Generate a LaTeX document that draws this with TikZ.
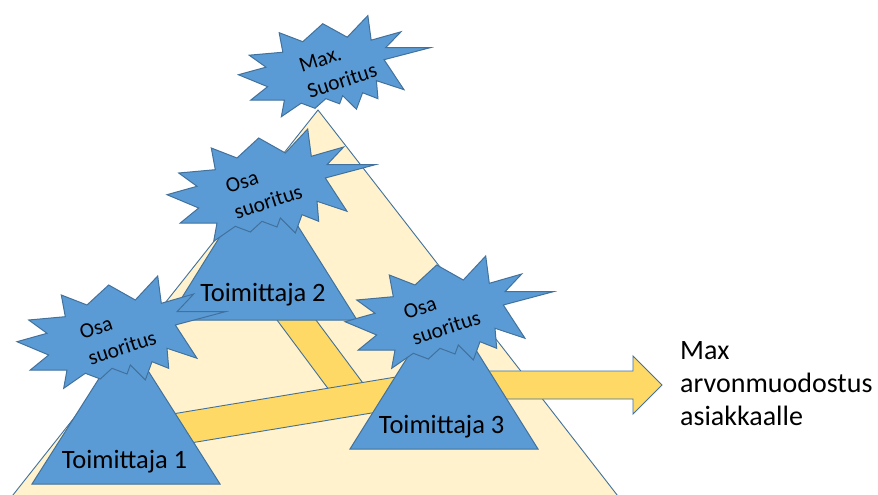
\documentclass[tikz,border=0pt]{standalone}
\usepackage{fontspec}
\setmainfont{Carlito}
\definecolor{accent}{HTML}{5B9BD5}
\definecolor{edge}{HTML}{41719C}
\definecolor{cream}{HTML}{FFF2CC}
\definecolor{gold}{HTML}{FFD966}
\tikzset{
  blueshape/.style={fill=accent, draw=edge, line width=1pt},
  band/.style={fill=gold, draw=edge, line width=0.9pt},
  burst/.pic={
    \path[blueshape] (35.7,-56) -- (39.3,-28.7) -- (71.7,-38) -- (55,-20.3)
      -- (103.3,-20.3) -- (53.3,-7) -- (75,26.3) -- (45,16.3) -- (46.7,36.3)
      -- (30,29.7) -- (23.3,48) -- (8.3,33) -- (5,42) -- (-10,36.3)
      -- (-21.7,47) -- (-36.7,41.3) -- (-58.3,56.3) -- (-55,38) -- (-91.7,38)
      -- (-73.3,23) -- (-105,9.7) -- (-75,1.3) -- (-93.3,-12) -- (-56.7,-15.3)
      -- (-60.7,-37) -- (-35,-27) -- (-13.3,-47) -- (13.3,-32) -- cycle;
  },
  startext/.style={font=\fontsize{21.5}{27}\selectfont, align=left, rotate=18, inner sep=0pt},
  tlabel/.style={font=\fontsize{26.5}{32}\selectfont, anchor=base, inner sep=0pt},
  rlabel/.style={font=\fontsize{28}{33}\selectfont, anchor=base west, inner sep=0pt},
}
\begin{document}
\begin{tikzpicture}[x=1pt, y=-1pt]
\useasboundingbox (0,0) rectangle (878,495);
\clip (0,0) rectangle (878,495);
\fill[white] (0,0) rectangle (878,495);

% large pyramid in the background
\path[fill=cream, draw=edge, line width=0.9pt] (9,500) -- (318,110) -- (621,500) -- cycle;

% yellow bands joining the suppliers
\path[band] (254.6,290) -- (293.6,290) -- (379.3,405) -- (340.3,405) -- cycle;
\path[band] (130,421) -- (420,373) -- (420,405) -- (130,453) -- cycle;

% output arrow
\path[band] (455,371) -- (633,371) -- (633,356) -- (662,385) -- (633,414)
  -- (633,399) -- (455,399) -- cycle;

% supplier triangles
\path[blueshape] (32,484) -- (220,484) -- (126,336) -- cycle;
\path[blueshape] (168,320) -- (357,320) -- (262,169) -- cycle;
\path[blueshape] (350,449) -- (538,449) -- (444,299) -- cycle;

% bursts
\pic (b1) at (122,332) {burst};
\pic (b2) at (272,185) {burst};
\pic (b3) at (450,312) {burst};
\pic[xscale=0.92, yscale=0.9] (b0) at (335,66) {burst};

% texts
\node[startext] (s0) at (338,68) {Max.\\Suoritus};
\node[startext] (s1) at (118,335) {Osa\\suoritus};
\node[startext] (s2) at (264,189) {Osa\\suoritus};
\node[startext] (s3) at (442,315) {Osa\\suoritus};

\node[tlabel] (t1) at (124.5,468.3) {Toimittaja 1};
\node[tlabel] (t2) at (263,301.7) {Toimittaja 2};
\node[tlabel] (t3) at (441.7,433.3) {Toimittaja 3};

\node[rlabel] (r1) at (680,359) {Max};
\node[rlabel] (r2) at (680,392) {arvonmuodostus};
\node[rlabel] (r3) at (680,425) {asiakkaalle};
\end{tikzpicture}
\end{document}
